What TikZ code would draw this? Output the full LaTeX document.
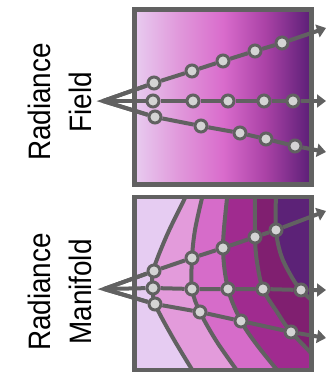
\documentclass[tikz,border=0pt]{standalone}
\usepackage{fontspec}
\setmainfont{Liberation Sans}
\usetikzlibrary{arrows.meta}

\definecolor{linegray}{HTML}{616161}
\definecolor{dotfill}{HTML}{D4D4D4}
\definecolor{bandA}{HTML}{E6CCF2}
\definecolor{bandB}{HTML}{E39BDB}
\definecolor{bandC}{HTML}{D66CC9}
\definecolor{bandD}{HTML}{A02B8F}
\definecolor{bandE}{HTML}{801F70}
\definecolor{bandF}{HTML}{5C2277}

% left-to-right colour ramp of the field box (path spans 25bp..75bp)
\pgfdeclarehorizontalshading{fieldramp}{100bp}{%
  color(0bp)=(rgb,255:red,232;green,204;blue,240);
  color(25bp)=(rgb,255:red,232;green,204;blue,240);
  color(38bp)=(rgb,255:red,224;green,150;blue,218);
  color(50bp)=(rgb,255:red,217;green,108;blue,204);
  color(62bp)=(rgb,255:red,170;green,66;blue,166);
  color(75bp)=(rgb,255:red,90;green,30;blue,118);
  color(100bp)=(rgb,255:red,90;green,30;blue,118)}

% narrow, tall label lettering
\newcommand{\lbltext}[1]{\scalebox{0.9}[1]{#1}}

\tikzset{
  ray/.style={draw=linegray, line width=4pt, line join=miter},
  rayarrow/.style={ray, -{Triangle[length=9pt,width=13pt]}},
  frame/.style={draw=linegray, line width=4.5pt},
  contour/.style={draw=linegray, line width=4pt},
  sample/.style={circle, draw=linegray, fill=dotfill, line width=3pt,
                 minimum size=12pt, inner sep=0pt},
  lbl/.style={rotate=90, anchor=base, inner sep=0pt,
              font=\fontsize{31}{33}\selectfont},
  % iso-contours of the manifold (top to bottom)
  curveA/.style={insert path={-- plot[smooth, tension=0.55] coordinates
    {(189,190) (185,198) (167,235) (153,271) (153,288) (155,304) (173,338) (196,376)}}},
  curveB/.style={insert path={-- plot[smooth, tension=0.55] coordinates
    {(204,190) (202,198) (195,230) (192,258) (192,289) (200,312) (217,342) (241,376)}}},
  curveC/.style={insert path={-- plot[smooth, tension=0.55] coordinates
    {(228,190) (227,198) (223,248) (228,289) (241,321) (257,345) (282,376)}}},
  curveD/.style={insert path={-- plot[smooth, tension=0.55] coordinates
    {(255,190) (255,237) (257,262) (263,289) (277,312) (291,332) (320,362)}}},
  curveE/.style={insert path={-- plot[smooth, tension=0.55] coordinates
    {(276,190) (276,230) (281,255) (290,274) (300,289) (318,306)}}},
}

\begin{document}
\begin{tikzpicture}[x=1pt, y=-1pt]
\useasboundingbox (0,0) rectangle (327,373);

% ---------- radiance field ----------
\shade[shading=fieldramp] (134.5,9.5) rectangle (311.5,184.5);
\draw[frame] (134.5,9.5) rectangle (311.5,184.5);

\node[lbl] (fieldA) at (50,102) {\lbltext{Radiance}};
\node[lbl] (fieldB) at (92,102) {\lbltext{Field}};

\coordinate (fa) at (103,101);
\coordinate (fe1) at (326,28);
\coordinate (fe2) at (326,101);
\coordinate (fe3) at (326,152);

\node[sample] (f11) at (154,83) {};
\node[sample] (f12) at (192,71) {};
\node[sample] (f13) at (223,61) {};
\node[sample] (f14) at (255,51) {};
\node[sample] (f15) at (282,43) {};

\node[sample] (f21) at (153,101) {};
\node[sample] (f22) at (193,101) {};
\node[sample] (f23) at (228,101) {};
\node[sample] (f24) at (264,101) {};
\node[sample] (f25) at (293,101) {};

\node[sample] (f31) at (155,117) {};
\node[sample] (f32) at (201,126) {};
\node[sample] (f33) at (240,133) {};
\node[sample] (f34) at (266,139) {};
\node[sample] (f35) at (295,146) {};

\draw[ray] (f11) -- (fa) -- (f31);
\draw[rayarrow] (fa) -- (f11) -- (f12) -- (f13) -- (f14) -- (f15) -- (fe1);
\draw[rayarrow] (fa) -- (f21) -- (f22) -- (f23) -- (f24) -- (f25) -- (fe2);
\draw[rayarrow] (fa) -- (f31) -- (f32) -- (f33) -- (f34) -- (f35) -- (fe3);

% ---------- radiance manifold ----------
\begin{scope}
  \clip (134.5,197) rectangle (311.5,370);
  \fill[bandF] (130,190) rectangle (320,380);
  \fill[bandE] (130,190) -- (276,190) [curveE] -- (320,380) -- (130,380) -- cycle;
  \fill[bandD] (130,190) -- (255,190) [curveD] -- (320,380) -- (130,380) -- cycle;
  \fill[bandC] (130,190) -- (228,190) [curveC] -- (130,380) -- cycle;
  \fill[bandB] (130,190) -- (204,190) [curveB] -- (130,380) -- cycle;
  \fill[bandA] (130,190) -- (189,190) [curveA] -- (130,380) -- cycle;
  \draw[contour] (189,190) [curveA];
  \draw[contour] (204,190) [curveB];
  \draw[contour] (228,190) [curveC];
  \draw[contour] (255,190) [curveD];
  \draw[contour] (276,190) [curveE];
\end{scope}
\draw[frame] (134.5,197) rectangle (311.5,370);

\node[lbl] (maniA) at (50,292) {\lbltext{Radiance}};
\node[lbl] (maniB) at (92,292) {\lbltext{Manifold}};

\coordinate (ma) at (104,289);
\coordinate (me1) at (326,211);
\coordinate (me2) at (326,290);
\coordinate (me3) at (326,338);

\node[sample] (m11) at (154,271) {};
\node[sample] (m12) at (192,258) {};
\node[sample] (m13) at (223,248) {};
\node[sample] (m14) at (255,237) {};
\node[sample] (m15) at (276,230) {};

\node[sample] (m21) at (153,288) {};
\node[sample] (m22) at (192,289) {};
\node[sample] (m23) at (228,289) {};
\node[sample] (m24) at (263,289) {};
\node[sample] (m25) at (301,290) {};

\node[sample] (m31) at (155,304) {};
\node[sample] (m32) at (200,312) {};
\node[sample] (m33) at (241,321) {};
\node[sample] (m34) at (291,332) {};

\draw[ray] (m11) -- (ma) -- (m31);
\draw[rayarrow] (ma) -- (m11) -- (m12) -- (m13) -- (m14) -- (m15) -- (me1);
\draw[rayarrow] (ma) -- (m21) -- (m22) -- (m23) -- (m24) -- (m25) -- (me2);
\draw[rayarrow] (ma) -- (m31) -- (m32) -- (m33) -- (m34) -- (me3);
\end{tikzpicture}
\end{document}
